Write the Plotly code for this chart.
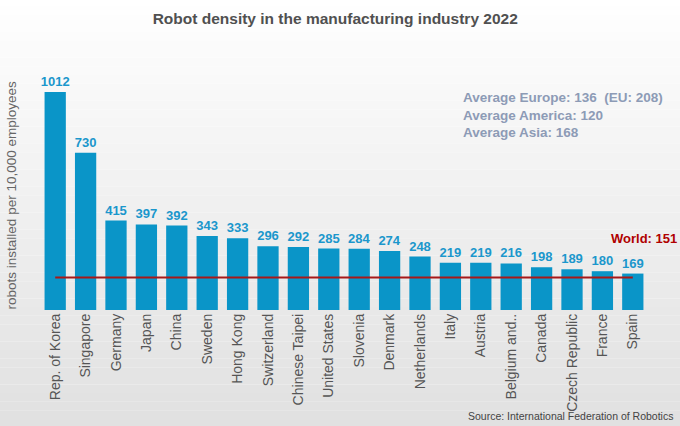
"""
Robot density in the manufacturing industry 2022 (bar chart)
"""
import plotly.graph_objects as go

# data
countries = ['Rep. of Korea', 'Singapore', 'Germany', 'Japan', 'China', 'Sweden',
             'Hong Kong', 'Switzerland', 'Chinese Taipei', 'United States', 'Slovenia',
             'Denmark', 'Netherlands', 'Italy', 'Austria', 'Belgium and..', 'Canada',
             'Czech Republic', 'France', 'Spain']
density = [1012, 730, 415, 397, 392, 343, 333, 296, 292, 285, 284, 274, 248,
           219, 219, 216, 198, 189, 180, 169]
world = 151
averages = ['Average Europe: 136  (EU: 208)', 'Average America: 120', 'Average Asia: 168']

TITRE = 'Robot density in the manufacturing industry 2022'
FONT = 'Liberation Sans, Arial, sans-serif'

fig = go.Figure()
fig.add_trace(go.Bar(
    x=countries, y=density,
    marker=dict(color='#0a95c8', line=dict(width=0)),
    texttemplate='%{y}', textposition='outside', cliponaxis=False, constraintext='none',
    textfont=dict(family=FONT, size=13, color='#1b97cc', weight='bold'),
))
# ligne moyenne mondiale
fig.add_trace(go.Scatter(
    x=[countries[0], countries[-1]], y=[world, world],
    mode='lines', line=dict(color='#a81818', width=2),
))

# fond en dégradé (bandes horizontales)
n = 50
for i in range(n):
    g = int(255 - 30 * i / (n - 1))
    fig.add_shape(type='rect', xref='paper', yref='paper',
                  x0=-0.2, x1=1.2, y0=1.25 - (i + 1) * 1.72 / n, y1=1.25 - i * 1.72 / n,
                  fillcolor='rgb(%d,%d,%d)' % (g, g, g), line=dict(width=0), layer='below')

fig.add_annotation(text='World: ' + str(world), xref='paper', x=1.051, xanchor='right',
                   yref='y', y=330, yanchor='middle', showarrow=False,
                   font=dict(family=FONT, size=13, color='#b00000', weight='bold'))
fig.add_annotation(text='<br>'.join(averages), xref='paper', x=0.692, xanchor='left',
                   yref='paper', y=0.89, yanchor='top', align='left', showarrow=False,
                   font=dict(family=FONT, size=13.5, color='#8d9bb6', weight='bold'))
fig.add_annotation(text='Source: International Federation of Robotics', xref='paper',
                   x=1.045, xanchor='right', yref='paper', y=-0.425, yanchor='middle',
                   showarrow=False,
                   font=dict(family='Liberation Sans Narrow, Arial Narrow, sans-serif',
                             size=10.5, color='#444'))
fig.add_annotation(text='robots installed per 10,000 employees', textangle=-90,
                   xref='paper', x=-0.047, xanchor='center', yref='paper', y=0.46,
                   yanchor='middle', showarrow=False,
                   font=dict(family=FONT, size=13.5, color='#666'))

fig.update_layout(
    width=680, height=426,
    margin=dict(l=40, r=32, t=60, b=116),
    title=dict(text='<b>' + TITRE + '</b>', x=0.493, xanchor='center', y=0.97,
               font=dict(family=FONT, size=15.5, color='#505050')),
    paper_bgcolor='white', plot_bgcolor='rgba(0,0,0,0)',
    showlegend=False, bargap=0.3,
    xaxis=dict(tickangle=-90, tickfont=dict(family=FONT, size=14, color='#555'),
               showline=False, showgrid=False, ticks='', range=[-0.5, 19.5]),
    yaxis=dict(range=[0, 1160], visible=False),
)

fig.write_html('out.html', config={'displayModeBar': False},
               post_script="document.body.style.margin='0';")
